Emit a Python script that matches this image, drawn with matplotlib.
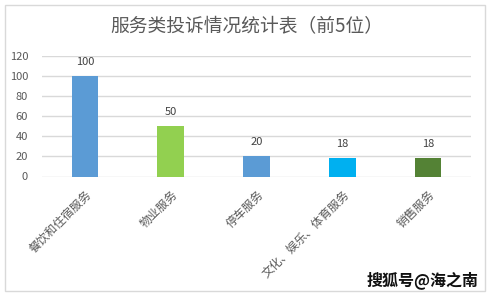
import matplotlib.pyplot as plt
from matplotlib.patches import Rectangle

plt.rcParams['font.family'] = ['Noto Sans CJK SC', 'DejaVu Sans']

categories = ['餐饮和住宿服务', '物业服务', '停车服务', '文化、娱乐、体育服务', '销售服务']
counts = [100, 50, 20, 18, 18]
colors = ['#5B9BD5', '#92D050', '#5B9BD5', '#00B0F0', '#548235']

fig = plt.figure(figsize=(4.93, 3.0), dpi=100)
ax = fig.add_axes([42 / 493, 1 - 176.5 / 300, 429 / 493, 120.5 / 300])

x = range(len(categories))
bars = ax.bar(x, counts, width=0.31, color=colors, zorder=3)
for b, v in zip(bars, counts):
    ax.text(b.get_x() + b.get_width() / 2, v + 14, str(v), ha='center', va='center',
            fontsize=8, color='#404040')

ax.set_xlim(-0.5, len(categories) - 0.5)
ax.set_ylim(0, 120)
ax.set_yticks(range(0, 121, 20))
ax.grid(axis='y', color='#D9D9D9', linewidth=1, zorder=0)
for s in ax.spines.values():
    s.set_visible(False)
ax.tick_params(axis='both', length=0, labelsize=8, labelcolor='#595959')
ax.tick_params(axis='y', pad=10)
ax.set_xticks(list(x))
ax.set_xticklabels(categories, rotation=45, ha='right', rotation_mode='anchor',
                   fontsize=8.5)
ax.tick_params(axis='x', pad=8)

fig.text(0.5, 1 - 27 / 300, '服务类投诉情况统计表（前5位）', ha='center', va='center',
         fontsize=13.5, color='#595959')
fig.text(479 / 493, 1 - 280 / 300, '搜狐号@海之南', ha='right', va='center',
         fontsize=11.5, fontweight='bold', color='#111111')

fig.patches.append(Rectangle((5 / 493, 1 - 291 / 300), 480 / 493, 286 / 300,
                             transform=fig.transFigure, fill=False,
                             edgecolor='#D9D9D9', linewidth=1))

fig.savefig('out.png', dpi=100)
